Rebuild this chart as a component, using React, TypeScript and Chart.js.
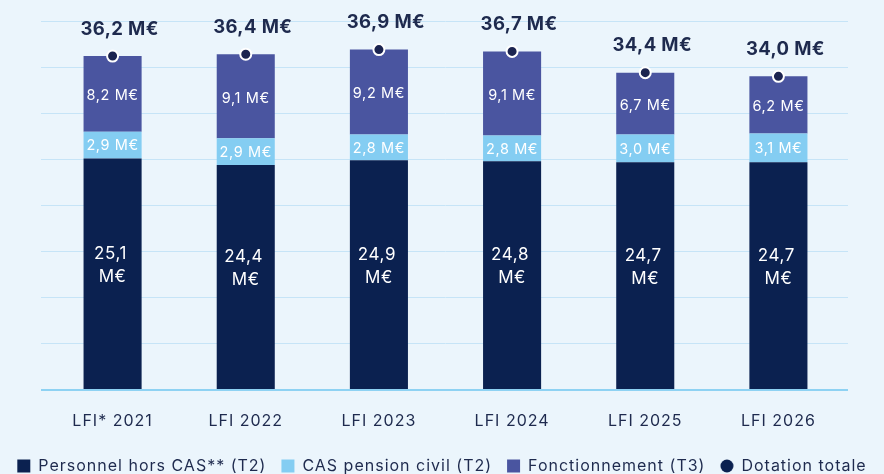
import React, { useEffect, useRef } from "react";
import { Chart, registerables } from "chart.js";

Chart.register(...registerables);

const categories = ["LFI* 2021", "LFI 2022", "LFI 2023", "LFI 2024", "LFI 2025", "LFI 2026"];
const personnel = [25.1, 24.4, 24.9, 24.8, 24.7, 24.7];
const casPension = [2.9, 2.9, 2.8, 2.8, 3.0, 3.1];
const fonctionnement = [8.2, 9.1, 9.2, 9.1, 6.7, 6.2];
const totals = [36.2, 36.4, 36.9, 36.7, 34.4, 34.0];
const seriesNames = ["Personnel hors CAS** (T2)", "CAS pension civil (T2)", "Fonctionnement (T3)", "Dotation totale"];

const FONT = "Inter, 'Noto Sans', sans-serif";
const DARK = "#0b2150";
const LIGHT = "#84cdf2";
const PURPLE = "#4a55a0";
const TEXT = "#1e2a4e";
const BG = "#ebf5fc";
const GRID = "#c6e4f7";
const BASE = "#8ed2f3";

const fmt = (v: number) => v.toFixed(1).replace(".", ",");

const spacingPlugin = {
  id: "spacing",
  beforeUpdate(chart: any) {
    chart.ctx.letterSpacing = "1px";
  },
  beforeDraw(chart: any) {
    chart.ctx.letterSpacing = "1px";
  },
};

const labelPlugin = {
  id: "segLabels",
  afterDatasetsDraw(chart: any) {
    const ctx = chart.ctx;
    ctx.save();
    ctx.textAlign = "center";
    ctx.textBaseline = "middle";
    ctx.fillStyle = "#ffffff";
    ctx.letterSpacing = "0.6px";
    const m0 = chart.getDatasetMeta(0);
    m0.data.forEach((el: any, i: number) => {
      const mid = (el.y + el.base) / 2;
      ctx.font = `400 17px ${FONT}`;
      ctx.fillText(fmt(personnel[i]), el.x - 2, mid - 20);
      ctx.fillText("M€", el.x, mid + 3);
    });
    const m1 = chart.getDatasetMeta(1);
    m1.data.forEach((el: any, i: number) => {
      const mid = (el.y + el.base) / 2;
      ctx.font = `400 14.5px ${FONT}`;
      ctx.fillText(fmt(casPension[i]) + " M€", el.x, mid + 1);
    });
    const m2 = chart.getDatasetMeta(2);
    m2.data.forEach((el: any, i: number) => {
      const mid = (el.y + el.base) / 2;
      ctx.font = `400 14.5px ${FONT}`;
      ctx.fillText(fmt(fonctionnement[i]) + " M€", el.x, mid + 2);
    });
    const m3 = chart.getDatasetMeta(3);
    ctx.fillStyle = TEXT;
    ctx.letterSpacing = "0.4px";
    m3.data.forEach((el: any, i: number) => {
      ctx.font = `700 18.5px ${FONT}`;
      ctx.fillText(fmt(totals[i]) + " M€", el.x + 7, el.y - 27);
    });
    ctx.restore();
  },
};

function makeDot(): HTMLCanvasElement {
  const c = document.createElement("canvas");
  c.width = 14;
  c.height = 14;
  const g = c.getContext("2d")!;
  g.fillStyle = DARK;
  g.beginPath();
  g.arc(7, 7, 6.5, 0, Math.PI * 2);
  g.fill();
  return c;
}

export default function App() {
  const ref = useRef<HTMLCanvasElement | null>(null);
  useEffect(() => {
    document.body.style.margin = "0";
    const dot = makeDot();
    const gridColor = (c: any) => (c.tick && c.tick.value === 0 ? BASE : GRID);
    const gridWidth = (c: any) => (c.tick && c.tick.value === 0 ? 2 : 1);
    const chart = new Chart(ref.current!, {
      type: "bar",
      data: {
        labels: categories,
        datasets: [
          { label: seriesNames[0], data: personnel, backgroundColor: DARK, borderWidth: 0, stack: "s", order: 1 } as any,
          { label: seriesNames[1], data: casPension, backgroundColor: LIGHT, borderWidth: 0, stack: "s", order: 1 } as any,
          { label: seriesNames[2], data: fonctionnement, backgroundColor: PURPLE, borderWidth: 0, stack: "s", order: 1 } as any,
          {
            type: "line",
            label: seriesNames[3],
            data: totals,
            stack: "t",
            order: 0,
            showLine: false,
            pointRadius: 5.5,
            pointBorderWidth: 2,
            pointBackgroundColor: "#1b2450",
            pointBorderColor: "#ffffff",
            backgroundColor: DARK,
            borderColor: "#ffffff",
          } as any,
        ],
      },
      options: {
        animation: false,
        responsive: false,
        maintainAspectRatio: false,
        layout: { padding: { top: 21, left: 0, right: 0, bottom: -10 } },
        datasets: { bar: { barPercentage: 0.436, categoryPercentage: 1 } } as any,
        scales: {
          x: {
            stacked: true,
            grid: { display: false, drawTicks: false },
            border: { display: false },
            ticks: { color: TEXT, font: { family: FONT, size: 16 }, padding: 22 },
            afterFit: (s: any) => {
              s.height = 53;
            },
          },
          y: {
            stacked: true,
            min: 0,
            max: 40,
            ticks: { display: false, stepSize: 5 },
            grid: { color: gridColor, lineWidth: gridWidth, drawTicks: true, tickLength: 5 },
            border: { display: false },
            afterFit: (s: any) => {
              s.width = 46;
            },
          },
          y2: {
            position: "right",
            display: true,
            min: 0,
            max: 40,
            ticks: { display: false, stepSize: 5 },
            grid: { color: gridColor, lineWidth: gridWidth, drawOnChartArea: false, drawTicks: true, tickLength: 3 },
            border: { display: false },
            afterFit: (s: any) => {
              s.width = 39;
            },
          },
        },
        plugins: {
          tooltip: { enabled: false },
          legend: {
            position: "bottom",
            labels: {
              color: TEXT,
              font: { family: FONT, size: 16 },
              boxWidth: 13,
              boxHeight: 13,
              padding: 15,
              usePointStyle: true,
              generateLabels: (c: any) => {
                const items = Chart.defaults.plugins.legend.labels.generateLabels(c);
                items.sort((a: any, b: any) => a.datasetIndex - b.datasetIndex);
                return items.map((it: any) => ({
                  ...it,
                  pointStyle: it.datasetIndex === 3 ? dot : "rect",
                  lineWidth: 0,
                  strokeStyle: "rgba(0,0,0,0)",
                  fillStyle: it.datasetIndex === 3 ? DARK : it.fillStyle,
                }));
              },
            },
          },
        },
      } as any,
      plugins: [spacingPlugin, labelPlugin],
    });
    return () => chart.destroy();
  }, []);
  return (
    <div style={{ width: 884, height: 474, background: BG }}>
      <canvas ref={ref} width={884} height={474} style={{ display: "block" }} />
    </div>
  );
}
